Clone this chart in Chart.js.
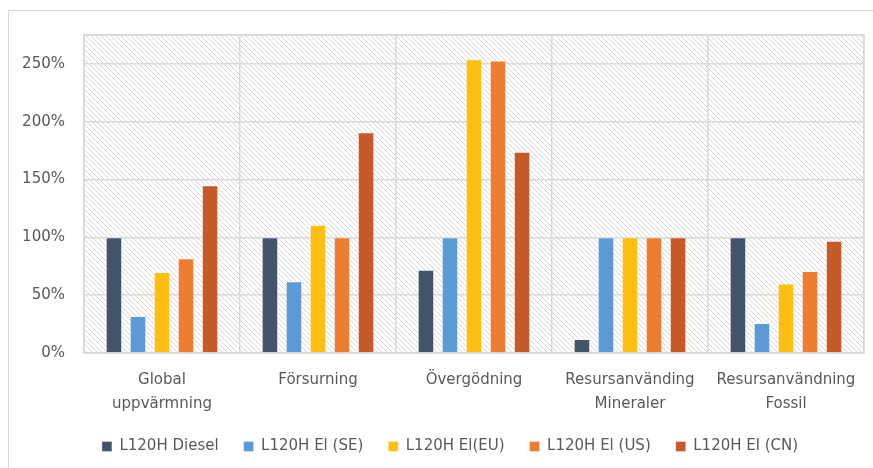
<!DOCTYPE html>
<html>
<head>
<meta charset="utf-8">
<style>
  html, body { margin: 0; padding: 0; background: #ffffff; }
  #wrap { position: relative; width: 873px; height: 468px; }
</style>
<script src="https://cdn.jsdelivr.net/npm/chart.js@4/dist/chart.umd.min.js"></script>
</head>
<body>
<div id="wrap"><canvas id="chart" width="873" height="468"></canvas></div>
<script>
// Impact categories (x axis)
const categories = [
  ['Global', 'uppvärmning'],
  ['Försurning'],
  ['Övergödning'],
  ['Resursanvänding', 'Mineraler'],
  ['Resursanvändning', 'Fossil']
];

// Series names
const seriesNames = ['L120H Diesel', 'L120H El (SE)', 'L120H El(EU)', 'L120H El (US)', 'L120H El (CN)'];

// Relative impact per series (1 = 100 %)
const dieselValues = [1.00, 1.00, 0.72, 0.12, 1.00];
const elSEValues   = [0.32, 0.62, 1.00, 1.00, 0.26];
const elEUValues   = [0.70, 1.11, 2.54, 1.00, 0.60];
const elUSValues   = [0.82, 1.00, 2.53, 1.00, 0.71];
const elCNValues   = [1.45, 1.91, 1.74, 1.00, 0.97];

// Y axis ticks
const yTicks = [0, 0.5, 1.0, 1.5, 2.0, 2.5];
const yMax = 2.75;

const seriesColors = ['#44546A', '#5B9BD5', '#FDC010', '#ED7D31', '#C55A28'];
const seriesValues = [dieselValues, elSEValues, elEUValues, elUSValues, elCNValues];

const FONT = '"DejaVu Sans", sans-serif';
const TEXT = '#595959';
const GRID = '#d9d9d9';

// Diagonal hatch used as plot area fill
function makeHatch() {
  const s = 5;
  const c = document.createElement('canvas');
  c.width = s; c.height = s;
  const g = c.getContext('2d');
  g.fillStyle = '#ffffff';
  g.fillRect(0, 0, s, s);
  g.strokeStyle = '#d6d6d6';
  g.lineWidth = 1;
  for (let k = -1; k <= 1; k++) {
    g.beginPath();
    g.moveTo(-1, k * s - 1);
    g.lineTo(s + 1, s + k * s + 1);
    g.stroke();
  }
  return c;
}

const backgroundPlugin = {
  id: 'plotBackground',
  afterLayout(chart) {
    // legend row sits a little right of the canvas centre
    const lg = chart.legend;
    if (lg) {
      lg.left += 8;
      lg.right += 8;
    }
  },
  beforeDraw(chart) {
    const ctx = chart.ctx;
    const a = chart.chartArea;
    ctx.save();
    ctx.fillStyle = '#ffffff';
    ctx.fillRect(0, 0, chart.width, chart.height);
    // outer frame (top and left edges)
    ctx.strokeStyle = '#d9d9d9';
    ctx.lineWidth = 1;
    ctx.beginPath();
    ctx.moveTo(8.5, chart.height);
    ctx.lineTo(8.5, 10.5);
    ctx.lineTo(chart.width, 10.5);
    ctx.stroke();
    // hatched plot area
    const pat = ctx.createPattern(makeHatch(), 'repeat');
    ctx.fillStyle = pat;
    ctx.fillRect(a.left, a.top, a.right - a.left, a.bottom - a.top);
    ctx.restore();
  },
  afterDatasetsDraw(chart) {
    const ctx = chart.ctx;
    const a = chart.chartArea;
    ctx.save();
    ctx.strokeStyle = GRID;
    ctx.lineWidth = 1.5;
    ctx.strokeRect(a.left, a.top, a.right - a.left, a.bottom - a.top);
    ctx.restore();
  }
};

const datasets = seriesNames.map((name, i) => ({
  label: name,
  data: seriesValues[i],
  backgroundColor: seriesColors[i],
  borderColor: 'rgba(255,255,255,0.35)',
  borderWidth: 1,
  categoryPercentage: 0.77,
  barPercentage: 0.69
}));

new Chart(document.getElementById('chart'), {
  type: 'bar',
  data: { labels: categories, datasets },
  plugins: [backgroundPlugin],
  options: {
    responsive: false,
    animation: false,
    layout: { padding: { top: 35, right: 9, left: 20, bottom: 4 } },
    plugins: {
      tooltip: { enabled: false },
      legend: {
        position: 'bottom',
        labels: {
          boxWidth: 10,
          boxHeight: 10,
          padding: 25,
          color: TEXT,
          font: { family: FONT, size: 15 }
        }
      }
    },
    scales: {
      x: {
        grid: { color: GRID, lineWidth: 1.5, drawTicks: false, offset: true },
        border: { display: false },
        ticks: {
          color: TEXT,
          padding: 15,
          maxRotation: 0,
          autoSkip: false,
          font: { family: FONT, size: 15, lineHeight: 1.6 }
        },
        afterFit(scale) { scale.height = 61; }
      },
      y: {
        min: 0,
        max: yMax,
        afterBuildTicks(scale) {
          scale.ticks = yTicks.concat([yMax]).map(v => ({ value: v }));
        },
        grid: { color: GRID, lineWidth: 1.5, drawTicks: false },
        border: { display: false },
        ticks: {
          color: TEXT,
          padding: 19,
          font: { family: FONT, size: 15 },
          callback: v => yTicks.includes(v) ? Math.round(v * 100) + '%' : ''
        },
        afterFit(scale) { scale.width = 64; }
      }
    }
  }
});
</script>
</body>
</html>
